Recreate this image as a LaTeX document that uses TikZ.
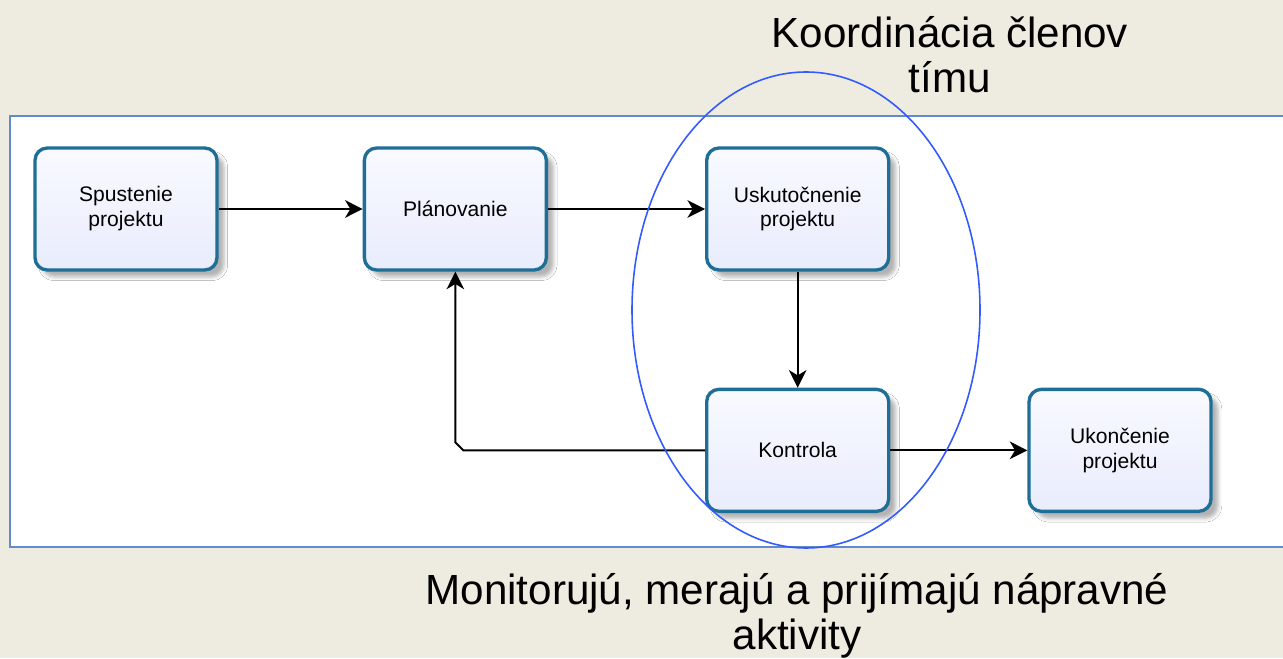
\documentclass[tikz,border=0pt]{standalone}
\usepackage{fontspec}
\setmainfont{Liberation Sans}
\usetikzlibrary{arrows.meta,calc,positioning,shadows.blur}
\definecolor{slidebg}{RGB}{238,235,224}
\definecolor{panelline}{RGB}{96,140,205}
\definecolor{boxline}{RGB}{30,110,150}
\definecolor{boxtop}{RGB}{249,250,255}
\definecolor{boxbot}{RGB}{232,236,252}
\definecolor{ringline}{RGB}{50,90,255}
\tikzset{every picture/.style={
  >={Stealth[length=10pt,width=10pt,inset=3pt]}   % Filled notched arrows.
  }
}

\begin{document}
\begin{tikzpicture}[
    node distance=2.88cm,
    phase/.style={
      draw=boxline,
      line width=1.9pt,
      rounded corners=7pt,
      top color=boxtop,
      bottom color=boxbot,
      minimum width=3.64cm,
      minimum height=2.44cm,
      align=center,
      font=\fontsize{12}{14.2}\selectfont,
      blur shadow={shadow xshift=4pt,shadow yshift=-4pt,shadow opacity=30}
    },
    flow/.style={->,line width=1.2pt},
    note/.style={
      align=center,
      font=\fontsize{24}{25.5}\selectfont
    }]

    % Slide background and the white diagram panel.
    \useasboundingbox (0,0) rectangle (25.66,13.16);
    \fill[slidebg] (0,0) rectangle (25.66,13.16);
    \draw[panelline,fill=white,line width=0.9pt] (0.2,2.22) rectangle (26,10.84);

    % Draw the project phases.
    \node[phase] (start) at (2.52,8.98) {Spustenie\\projektu};
    \node[phase,right=of start] (plan) {Plánovanie};
    \node[phase,right=3.14cm of plan] (exec) {Uskutočnenie\\projektu};
    \node[phase,below=2.32cm of exec] (ctrl) {Kontrola};
    \node[phase,right=2.74cm of ctrl] (close) {Ukončenie\\projektu};

    % Draw the flow between the phases.
    \draw[flow] (start) -- (plan);
    \draw[flow] (plan) -- (exec);
    \draw[flow] (exec) -- (ctrl);
    \draw[flow] (ctrl) -- (close);

    % Feedback from control back to planning.
    \coordinate (bend) at (plan.south |- ctrl.west);
    \draw[flow] (ctrl.west) -- ([xshift=0.16cm] bend)
      -- ([yshift=0.16cm] bend) -- (plan.south);

    % Mark the execution and control phases.
    \draw[ringline,line width=0.9pt] (16.12,6.96)
      ellipse [x radius=3.48cm,y radius=4.76cm];

    \node[note] (team) at (19.0,12.06) {Koordinácia členov\\tímu};
    \node[note] (monitor) at (15.94,0.84)
      {Monitorujú, merajú a prijímajú nápravné\\aktivity};
  \end{tikzpicture}
\end{document}
